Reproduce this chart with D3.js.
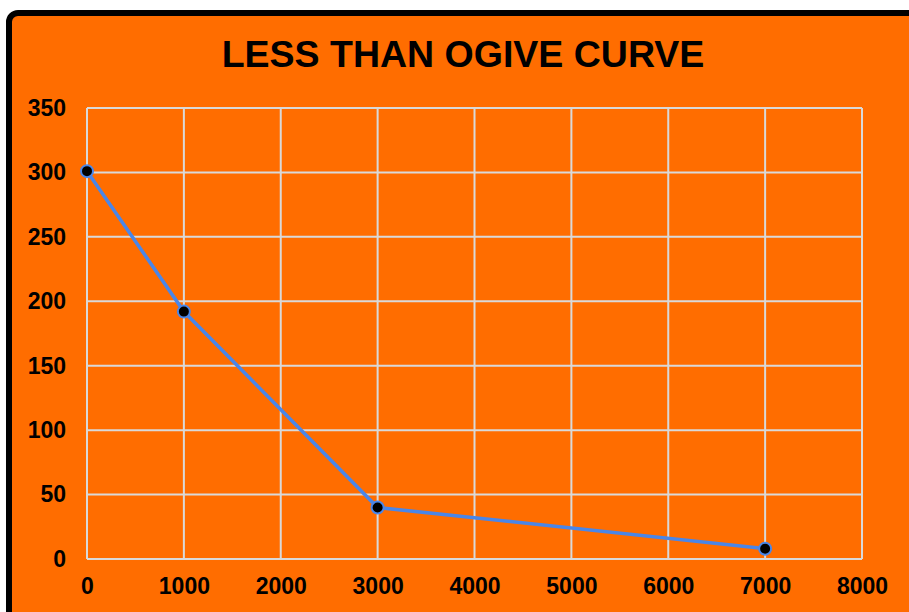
<!DOCTYPE html>
<html>
<head>
<meta charset="utf-8">
<script src="https://cdn.jsdelivr.net/npm/d3@7"></script>
<style>
  html, body { margin: 0; padding: 0; background: #ffffff; }
  svg { display: block; }
</style>
</head>
<body>
<svg id="chart" width="909" height="612"></svg>
<script>
// Less-than ogive: cumulative frequency against class limit
const limits = [0, 1000, 3000, 7000];
const cumFreq = [301, 192, 40, 8];
const xTicks = [0, 1000, 2000, 3000, 4000, 5000, 6000, 7000, 8000];
const yTicks = [0, 50, 100, 150, 200, 250, 300, 350];
const titleText = "LESS THAN OGIVE CURVE";

const svg = d3.select("#chart");
const font = "'Liberation Sans', Arial, sans-serif";

// Chart panel with black frame (runs off the right and bottom edges)
svg.append("rect")
  .attr("x", 9).attr("y", 13)
  .attr("width", 1000).attr("height", 1000)
  .attr("rx", 9)
  .attr("fill", "#ff6d00")
  .attr("stroke", "#000")
  .attr("stroke-width", 6);

const x = d3.scaleLinear().domain([0, 8000]).range([87, 862]);
const y = d3.scaleLinear().domain([0, 350]).range([559, 108]);

// Grid
const grid = svg.append("g");
grid.selectAll("line.v").data(xTicks).join("line")
  .attr("x1", d => x(d)).attr("x2", d => x(d))
  .attr("y1", y(0)).attr("y2", y(350))
  .attr("stroke", "#d9d9d9").attr("stroke-width", 2);
grid.selectAll("line.h").data(yTicks).join("line")
  .attr("y1", d => y(d)).attr("y2", d => y(d))
  .attr("x1", x(0)).attr("x2", x(8000))
  .attr("stroke", "#d9d9d9").attr("stroke-width", 2);

// Axes (labels only)
const xAxis = svg.append("g")
  .attr("transform", `translate(0,${y(0)})`)
  .call(d3.axisBottom(x).tickValues(xTicks).tickSize(0).tickPadding(19).tickFormat(d3.format("d")));
const yAxis = svg.append("g")
  .attr("transform", `translate(${x(0)},0)`)
  .call(d3.axisLeft(y).tickValues(yTicks).tickSize(0).tickPadding(21).tickFormat(d3.format("d")));
[xAxis, yAxis].forEach(a => {
  a.select(".domain").remove();
  a.selectAll("text")
    .attr("fill", "#000")
    .style("font-family", font)
    .style("font-size", "23px")
    .style("font-weight", "bold");
});

// Title
svg.append("text")
  .attr("x", 463).attr("y", 67)
  .attr("text-anchor", "middle")
  .style("font-family", font)
  .style("font-size", "37.5px")
  .style("font-weight", "bold")
  .attr("fill", "#000")
  .text(titleText);

// Series
const pts = limits.map((d, i) => [d, cumFreq[i]]);
svg.append("path")
  .datum(pts)
  .attr("fill", "none")
  .attr("stroke", "#4a86e8")
  .attr("stroke-width", 3.5)
  .attr("d", d3.line().x(d => x(d[0])).y(d => y(d[1])));

svg.selectAll("circle.pt").data(pts).join("circle")
  .attr("cx", d => x(d[0])).attr("cy", d => y(d[1]))
  .attr("r", 6)
  .attr("fill", "#000")
  .attr("stroke", "#4a86e8")
  .attr("stroke-width", 2);
</script>
</body>
</html>
